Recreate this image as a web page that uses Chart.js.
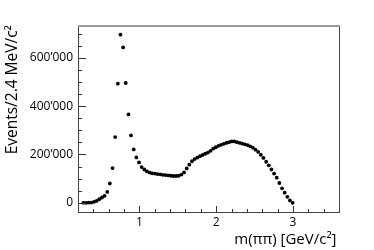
<!DOCTYPE html>
<html>
<head>
<meta charset="utf-8">
<script src="https://cdn.jsdelivr.net/npm/chart.js@4"></script>
<style>
  html, body { margin: 0; padding: 0; background: #fff; }
  #wrap { width: 374px; height: 250px; }
</style>
</head>
<body>
<div id="wrap"><canvas id="massChart" width="374" height="250"></canvas></div>
<script>
// m(pi pi) bin centres [GeV/c^2]
const massBins = [
  0.270, 0.305, 0.339, 0.374, 0.408, 0.443, 0.477, 0.512, 0.546, 0.581,
  0.615, 0.650, 0.684, 0.719, 0.753, 0.788, 0.822, 0.857, 0.891, 0.926,
  0.960, 0.995, 1.029, 1.064, 1.098, 1.133, 1.167, 1.202, 1.236, 1.271,
  1.305, 1.340, 1.374, 1.409, 1.443, 1.478, 1.512, 1.547, 1.581, 1.616,
  1.650, 1.685, 1.719, 1.754, 1.788, 1.823, 1.857, 1.892, 1.926, 1.961,
  1.995, 2.030, 2.064, 2.099, 2.133, 2.168, 2.202, 2.237, 2.271, 2.306,
  2.340, 2.375, 2.409, 2.444, 2.478, 2.513, 2.547, 2.582, 2.616, 2.651,
  2.685, 2.720, 2.754, 2.789, 2.823, 2.858, 2.892, 2.927, 2.961, 2.996
];

// events per bin
const events = [
  0, 0, 1000, 1000, 4000, 8000, 15000, 22000, 29000, 45000,
  80000, 144000, 272000, 493000, 696000, 643000, 496000, 366000, 279000, 221000,
  188000, 167000, 148000, 138000, 130000, 125000, 122000, 121000, 119000, 118000,
  116000, 115000, 114000, 112000, 111000, 111000, 112000, 117000, 126000, 142000,
  158000, 172000, 181000, 187000, 193000, 198000, 203000, 208000, 215000, 224000,
  230000, 236000, 240000, 244000, 248000, 251000, 254000, 254000, 251000, 248000,
  245000, 242000, 239000, 234000, 228000, 220000, 211000, 199000, 186000, 170000,
  155000, 138000, 121000, 104000, 82000, 60000, 42000, 25000, 10000, 0
];

// axis ticks
const xTicks = [1, 2, 3];
const xMinorTicks = [0.2, 0.4, 0.6, 0.8, 1.2, 1.4, 1.6, 1.8, 2.2, 2.4, 2.6, 2.8, 3.2, 3.4];
const yTicks = [0, 200000, 400000, 600000];
const yMinorTicks = [50000, 100000, 150000, 250000, 300000, 350000, 450000, 500000, 550000, 650000, 700000];

const points = massBins.map((m, i) => ({ x: m, y: events[i] }));

// ROOT style frame with inward ticks
const framePlugin = {
  id: 'frame',
  afterDraw(chart) {
    const { ctx, chartArea: a, scales } = chart;
    const xs = scales.x, ys = scales.y;
    ctx.save();
    ctx.strokeStyle = '#333';
    ctx.lineWidth = 1;
    ctx.beginPath();
    xTicks.forEach(v => {
      const p = Math.round(xs.getPixelForValue(v)) + 0.5;
      ctx.moveTo(p, a.bottom); ctx.lineTo(p, a.bottom - 6);
    });
    xMinorTicks.forEach(v => {
      const p = Math.round(xs.getPixelForValue(v)) + 0.5;
      ctx.moveTo(p, a.bottom); ctx.lineTo(p, a.bottom - 3);
    });
    yTicks.forEach(v => {
      const p = Math.round(ys.getPixelForValue(v)) + 0.5;
      ctx.moveTo(a.left, p); ctx.lineTo(a.left + 8, p);
    });
    yMinorTicks.forEach(v => {
      const p = Math.round(ys.getPixelForValue(v)) + 0.5;
      ctx.moveTo(a.left, p); ctx.lineTo(a.left + 4, p);
    });
    ctx.stroke();
    ctx.strokeStyle = '#444';
    ctx.strokeRect(a.left + 0.5, a.top + 0.5, a.right - a.left, a.bottom - a.top);
    ctx.strokeStyle = '#999';
    ctx.lineWidth = 2;
    ctx.beginPath();
    ctx.moveTo(a.left, a.top + 1); ctx.lineTo(a.right + 1, a.top + 1);
    ctx.stroke();
    ctx.restore();
  }
};

const fmt = v => String(v).replace(/\B(?=(\d{3})+(?!\d))/g, '\u2019');

const massChart = new Chart(document.getElementById('massChart').getContext('2d'), {
  type: 'scatter',
  data: {
    datasets: [{
      data: points,
      backgroundColor: '#000',
      borderWidth: 0,
      pointRadius: 1.9,
      pointHoverRadius: 1.9
    }]
  },
  options: {
    responsive: false,
    animation: false,
    events: [],
    layout: { padding: { left: 0, top: 25, right: 35, bottom: 0 } },
    plugins: { legend: { display: false }, tooltip: { enabled: false } },
    scales: {
      x: {
        type: 'linear',
        min: 0.2,
        max: 3.6,
        grid: { display: false, drawTicks: false },
        border: { display: false },
        afterBuildTicks: s => { s.ticks = xTicks.map(v => ({ value: v })); },
        afterFit: s => { s.height = 38; },
        ticks: {
          padding: 3,
          color: '#000',
          font: { family: 'Open Sans', size: 12 },
          maxRotation: 0
        },
        title: {
          display: true,
          text: 'm(\u03c0\u03c0) [GeV/c\u00b2]\u2009',
          align: 'end',
          color: '#000',
          font: { family: 'Open Sans', size: 15 },
          padding: { top: 0, bottom: 1 }
        }
      },
      y: {
        type: 'linear',
        min: -38000,
        max: 736000,
        grid: { display: false, drawTicks: false },
        border: { display: false },
        afterBuildTicks: s => { s.ticks = yTicks.map(v => ({ value: v })); },
        afterFit: s => { s.width = 78; },
        ticks: {
          padding: 5,
          color: '#000',
          font: { family: 'Open Sans', size: 12 },
          callback: v => fmt(v)
        },
        title: {
          display: true,
          text: 'Events/2.4 MeV/c\u00b2',
          align: 'end',
          color: '#000',
          font: { family: 'Open Sans', size: 15.5 },
          padding: { top: 3, bottom: 0 }
        }
      }
    }
  },
  plugins: [framePlugin]
});
</script>
</body>
</html>
